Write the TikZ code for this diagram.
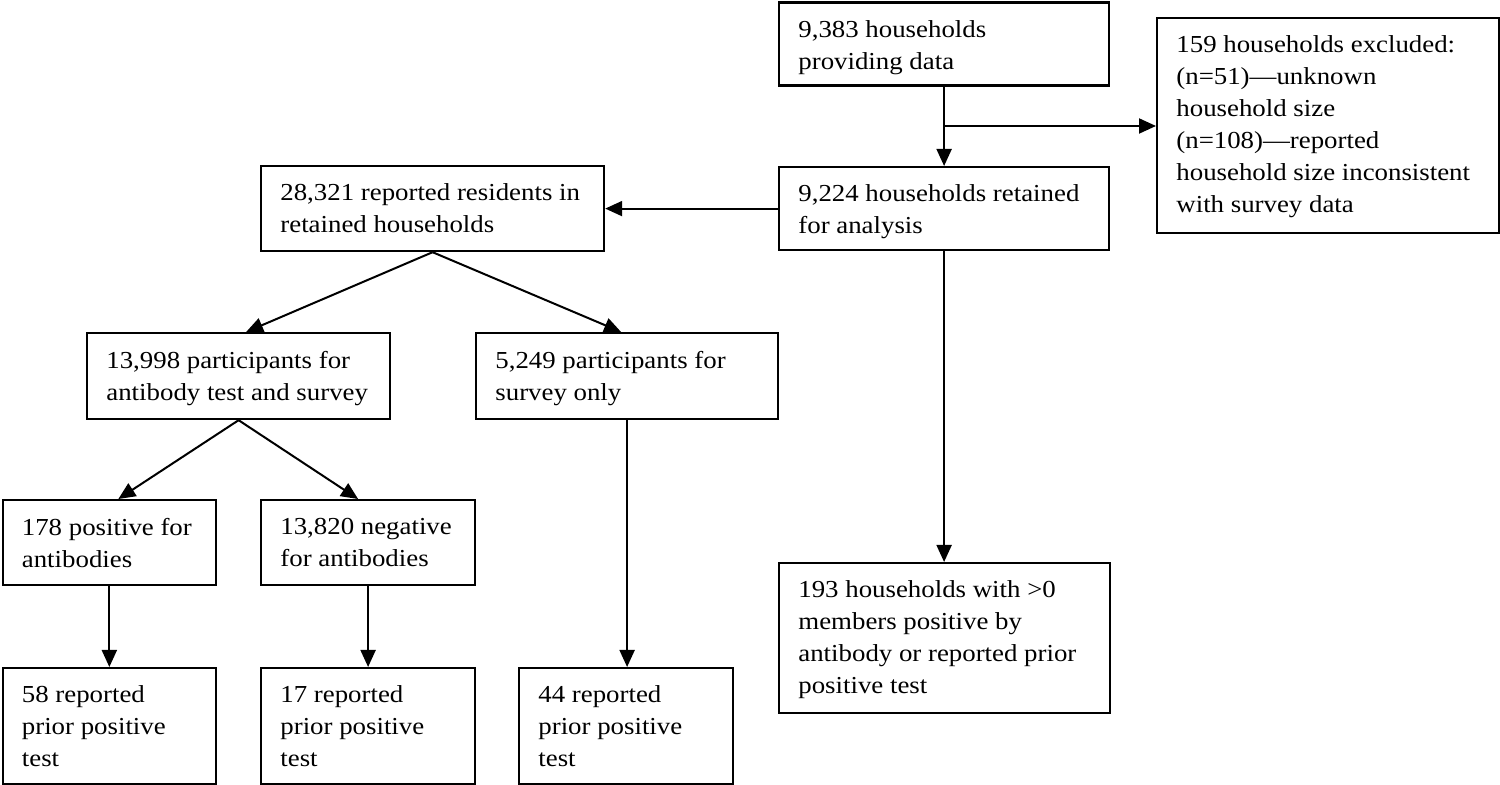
\documentclass[tikz,border=0pt]{standalone}
\usepackage{fontspec}
\setmainfont{Liberation Serif}[FakeStretch=1.10]
\usetikzlibrary{arrows.meta}
\begin{document}
\begin{tikzpicture}[x=0.5pt,y=-0.5pt,
  box/.style={draw=black, line width=1.1pt, inner sep=0pt, anchor=north west, rectangle},
  txt/.style={anchor=north west, inner sep=0pt, align=left, font=\fontsize{12.2}{16}\selectfont},
  arr/.style={line width=1pt, -{Triangle[length=8.5pt,width=7.5pt]}}]
\useasboundingbox (0,0) rectangle (1500,785);
% boxes
\node[box, minimum width=165pt, minimum height=41.5pt] (b1) at (778,1.5) {};
\node[box, minimum width=171pt, minimum height=107.5pt] (b2) at (1156,17) {};
\node[box, minimum width=165pt, minimum height=41.5pt] (b3) at (778,166) {};
\node[box, minimum width=171.5pt, minimum height=42.5pt] (b4) at (260,165) {};
\node[box, minimum width=151.5pt, minimum height=43pt] (b5) at (86,332) {};
\node[box, minimum width=151pt, minimum height=43pt] (b6) at (475,332) {};
\node[box, minimum width=106.75pt, minimum height=42.5pt] (b7) at (1.5,499) {};
\node[box, minimum width=107pt, minimum height=42.5pt] (b8) at (260,499) {};
\node[box, minimum width=106.75pt, minimum height=58.25pt] (b9) at (1.5,667) {};
\node[box, minimum width=107pt, minimum height=58.25pt] (b10) at (260,667) {};
\node[box, minimum width=107pt, minimum height=58.25pt] (b11) at (518,667) {};
\node[box, minimum width=165.5pt, minimum height=75pt] (b12) at (778,562) {};
% texts
\node[txt] (t1) at (798,20) {9,383 households\\providing data};
\node[txt] (t2) at (1176,35.5) {159 households excluded:\\(n=51)—unknown\\household size\\(n=108)—reported\\household size inconsistent\\with survey data};
\node[txt] (t3) at (798,184.5) {9,224 households retained\\for analysis};
\node[txt] (t4) at (280,183.5) {28,321 reported residents in\\retained households};
\node[txt] (t5) at (106,350.5) {13,998 participants for\\antibody test and survey};
\node[txt] (t6) at (495,350.5) {5,249 participants for\\survey only};
\node[txt] (t7) at (21.5,517.5) {178 positive for\\antibodies};
\node[txt] (t8) at (280,517.5) {13,820 negative\\for antibodies};
\node[txt] (t9) at (21.5,685.5) {58 reported\\prior positive\\test};
\node[txt] (t10) at (280,685.5) {17 reported\\prior positive\\test};
\node[txt] (t11) at (538,685.5) {44 reported\\prior positive\\test};
\node[txt] (t12) at (798,580.5) {193 households with >0\\members positive by\\antibody or reported prior\\positive test};
% connectors
\draw[arr] (b1.south) -- (b3.north);
\coordinate (j) at (943,126);
\draw[arr] (j) -- (j -| b2.west);
\draw[arr] (b3.west) -- (b4.east);
\draw[arr] (b3.south) -- (b3.south |- b12.north);
\draw[arr] (b4.south) -- ([xshift=3.75pt]b5.north);
\draw[arr] (b4.south) -- ([xshift=-3pt]b6.north);
\draw[arr] (b5.south) -- ([xshift=4.5pt]b7.north);
\draw[arr] (b5.south) -- ([xshift=-5pt]b8.north);
\draw[arr] (b7.south) -- (b9.north);
\draw[arr] (b8.south) -- (b10.north);
\draw[arr] (b6.south) -- (b6.south |- b11.north);
\end{tikzpicture}
\end{document}
